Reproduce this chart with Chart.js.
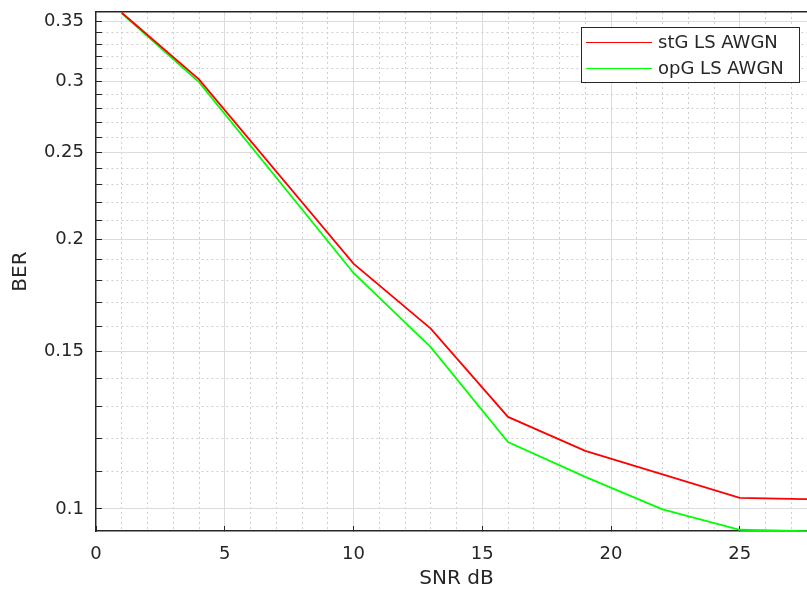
<!DOCTYPE html>
<html><head><meta charset="utf-8">
<script src="https://cdn.jsdelivr.net/npm/chart.js@4.4.1/dist/chart.umd.min.js"></script>
<style>
html,body{margin:0;padding:0;background:#fff;overflow:hidden;width:807px;height:594px}
#wrap{position:relative;width:817px;height:594px}
</style>
</head><body><div id="wrap"><canvas id="c" width="817" height="594"></canvas></div>
<script>
// ---- data ----
const snr = [1, 4, 10, 13, 16, 19, 22, 25, 28];
const berStG = [0.358, 0.3017, 0.1879, 0.1590, 0.1267, 0.1161, 0.1093, 0.1029, 0.1025];
const berOpG = [0.3574, 0.2995, 0.1834, 0.1516, 0.1188, 0.1086, 0.0999, 0.0948, 0.0944];
const seriesLabels = ['stG LS AWGN', 'opG LS AWGN'];
const xMajorTicks = [0, 5, 10, 15, 20, 25];
const yMajorTicks = [0.1, 0.15, 0.2, 0.25, 0.3, 0.35];
const yTickLabels = ['0.1', '0.15', '0.2', '0.25', '0.3', '0.35'];
const xTitle = 'SNR dB';
const yTitle = 'BER';

const AXIS = '#262626';
const MAJOR_GRID = '#dcdcdc';
const MINOR_GRID = '#d0d0d0';
const FONT = 'DejaVu Sans';

function toPoints(xs, ys) { return xs.map((x, i) => ({x: x, y: ys[i]})); }
function noPad(s) { s.paddingTop = 0; s.paddingBottom = 0; s.paddingLeft = 0; s.paddingRight = 0; }

const boxLegend = {
  id: 'boxLegend',
  afterDatasetsDraw(chart) {
    const {ctx, chartArea: a} = chart;
    const w = 218, h = 55;
    const right = a.right - 18, top = a.top + 15;
    const left = right - w;
    ctx.save();
    ctx.fillStyle = '#fff';
    ctx.fillRect(left, top, w, h);
    ctx.strokeStyle = AXIS; ctx.lineWidth = 1;
    ctx.strokeRect(Math.round(left) + 0.5, Math.round(top) + 0.5, w, h);
    ctx.font = '18px "' + FONT + '"';
    ctx.textBaseline = 'middle';
    ctx.textAlign = 'left';
    chart.data.datasets.forEach((ds, i) => {
      const y = Math.round(top + 15 + i * 25.5) + 0.5;
      ctx.strokeStyle = ds.borderColor; ctx.lineWidth = 1.2;
      ctx.beginPath(); ctx.moveTo(left + 5, y); ctx.lineTo(left + 71, y); ctx.stroke();
      ctx.fillStyle = AXIS;
      ctx.fillText(ds.label, left + 77, y + 1);
    });
    ctx.restore();
  }
};

new Chart(document.getElementById('c'), {
  type: 'line',
  data: {
    datasets: [
      {label: seriesLabels[0], data: toPoints(snr, berStG), borderColor: '#ff0000', borderWidth: 1.8, pointRadius: 0, tension: 0, fill: false},
      {label: seriesLabels[1], data: toPoints(snr, berOpG), borderColor: '#00ff00', borderWidth: 1.8, pointRadius: 0, tension: 0, fill: false}
    ]
  },
  options: {
    responsive: false,
    animation: false,
    devicePixelRatio: 1,
    layout: {padding: {top: 12, right: 0, bottom: 0, left: 0}},
    plugins: {legend: {display: false}, tooltip: {enabled: false}},
    scales: {
      x: {
        type: 'linear', position: 'bottom', min: 0, max: 28,
        afterBuildTicks: (s) => {
          const t = [];
          for (let k = 0; k <= 28; k++) t.push({value: k, major: xMajorTicks.includes(k)});
          s.ticks = t;
        },
        afterFit: (s) => { s.height = 63; noPad(s); },
        ticks: {
          autoSkip: false, maxRotation: 0, padding: 18, color: AXIS,
          font: {family: FONT, size: 18},
          callback: (v) => xMajorTicks.includes(v) ? String(v) : ''
        },
        grid: {
          drawOnChartArea: true, drawTicks: true, tickLength: -5,
          color: (c) => c.tick && xMajorTicks.includes(c.tick.value) ? MAJOR_GRID : MINOR_GRID,
          tickColor: (c) => c.tick && xMajorTicks.includes(c.tick.value) ? AXIS : 'rgba(0,0,0,0)',
          lineWidth: 1
        },
        border: {
          display: true, color: AXIS, width: 1.4,
          dash: (c) => c.tick && xMajorTicks.includes(c.tick.value) ? [] : [2, 3]
        },
        title: {display: true, text: xTitle, color: AXIS, font: {family: FONT, size: 20}, padding: {top: 0, bottom: 3}}
      },
      xTop: {
        type: 'linear', position: 'top', min: 0, max: 28,
        afterFit: (s) => { s.height = 0; noPad(s); },
        ticks: {display: false},
        grid: {drawOnChartArea: false, drawTicks: false},
        border: {display: true, color: AXIS, width: 1.4}
      },
      y: {
        type: 'logarithmic', position: 'left', min: 0.0945, max: 0.3587,
        afterBuildTicks: (s) => {
          const t = [];
          for (let k = 10; k <= 35; k++) {
            const v = k / 100;
            t.push({value: v, major: k % 5 === 0});
          }
          s.ticks = t;
        },
        afterFit: (s) => { s.width = 96; noPad(s); },
        ticks: {
          autoSkip: false, padding: 18, color: AXIS,
          font: {family: FONT, size: 18},
          callback: (v) => {
            const i = yMajorTicks.findIndex(m => Math.abs(m - v) < 1e-9);
            return i >= 0 ? yTickLabels[i] : '';
          }
        },
        grid: {
          drawOnChartArea: true, drawTicks: true, tickLength: -6,
          color: (c) => c.tick && c.tick.major ? MAJOR_GRID : MINOR_GRID,
          tickColor: AXIS,
          lineWidth: 1
        },
        border: {
          display: true, color: AXIS, width: 1.4,
          dash: (c) => c.tick && c.tick.major ? [] : [2, 3]
        },
        title: {display: true, text: yTitle, color: AXIS, font: {family: FONT, size: 20}, padding: {top: 9, bottom: 0}}
      }
    }
  },
  plugins: [boxLegend]
});
</script>
</body></html>
